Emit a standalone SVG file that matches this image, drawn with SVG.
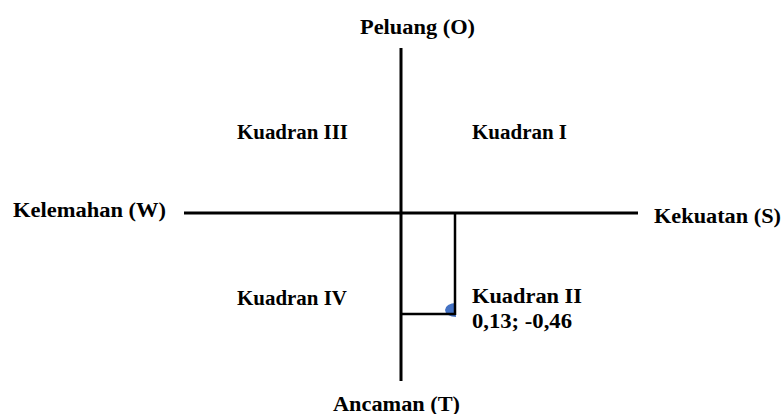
<svg xmlns="http://www.w3.org/2000/svg" width="782" height="414" viewBox="0 0 782 414">
<style>
.t{font-family:"Liberation Serif","Times New Roman",serif;font-weight:bold;font-size:20px;fill:#000}
.ax{stroke:#000;stroke-width:3;fill:none}
.pt{stroke:#000;stroke-width:2.5;fill:none}
</style>
<rect width="782" height="414" fill="#fff"/>
<g id="connectors">
<line class="ax" x1="401" y1="48" x2="401" y2="381"/>
<line class="ax" x1="184" y1="213" x2="638" y2="213"/>
<path d="M456,303 A11,7 0 0 0 456,317 Z" fill="#4472C4"/>
<line class="pt" x1="455" y1="213" x2="455" y2="315"/>
<line class="pt" x1="401" y1="314" x2="455" y2="314"/>
</g>
<g id="peluang"><text class="t" x="360" y="34" textLength="115" lengthAdjust="spacingAndGlyphs">Peluang (O)</text></g>
<g id="kelemahan"><text class="t" x="13" y="217" textLength="153" lengthAdjust="spacingAndGlyphs">Kelemahan (W)</text></g>
<g id="kekuatan"><text class="t" x="654" y="223" textLength="127" lengthAdjust="spacingAndGlyphs">Kekuatan (S)</text></g>
<g id="ancaman"><text class="t" x="333" y="411" textLength="127" lengthAdjust="spacingAndGlyphs">Ancaman (T)</text></g>
<g id="kuadran3"><text class="t" x="237" y="139" textLength="111" lengthAdjust="spacingAndGlyphs">Kuadran III</text></g>
<g id="kuadran1"><text class="t" x="472" y="139" textLength="95" lengthAdjust="spacingAndGlyphs">Kuadran I</text></g>
<g id="kuadran4"><text class="t" x="237" y="305" textLength="110" lengthAdjust="spacingAndGlyphs">Kuadran IV</text></g>
<g id="kuadran2">
<text class="t" x="472" y="303" textLength="110" lengthAdjust="spacingAndGlyphs">Kuadran II</text>
<text class="t" x="472" y="328" textLength="100" lengthAdjust="spacingAndGlyphs">0,13; -0,46</text>
</g>
</svg>
